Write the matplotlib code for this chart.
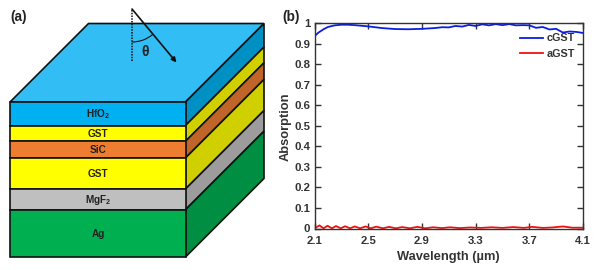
import matplotlib
matplotlib.use("Agg")
import matplotlib.pyplot as plt
from matplotlib.patches import Polygon, Arc

plt.rcParams['font.family'] = ['Liberation Sans', 'DejaVu Sans']
plt.rcParams['font.weight'] = 'bold'
plt.rcParams['mathtext.fontset'] = 'custom'
plt.rcParams['mathtext.bf'] = 'Liberation Sans:bold'
TXT = '#222222'

# Absorption data
wl_c = [2.1, 2.13, 2.17, 2.2, 2.25, 2.3, 2.35, 2.4, 2.5, 2.6, 2.7, 2.8, 2.9, 3.0, 3.05, 3.1, 3.15, 3.2,
        3.25, 3.3, 3.35, 3.4, 3.45, 3.5, 3.55, 3.6, 3.65, 3.7, 3.75, 3.8, 3.85, 3.9, 3.95, 4.0, 4.05, 4.1]
abs_c = [0.937, 0.955, 0.972, 0.982, 0.990, 0.993, 0.993, 0.991, 0.985, 0.977, 0.972, 0.971, 0.973, 0.977,
         0.981, 0.980, 0.987, 0.984, 0.992, 0.987, 0.995, 0.990, 0.996, 0.991, 0.996, 0.990, 0.991, 0.990,
         0.978, 0.982, 0.970, 0.973, 0.955, 0.960, 0.958, 0.953]
wl_a = [2.1, 2.137, 2.167, 2.197, 2.23, 2.26, 2.295, 2.328, 2.365, 2.40, 2.44, 2.48, 2.52, 2.56, 2.61, 2.655,
        2.705, 2.754, 2.81, 2.866, 2.925, 2.985, 3.05, 3.11, 3.18, 3.26, 3.34, 3.42, 3.5, 3.58, 3.66, 3.72,
        3.8, 3.87, 3.95, 4.02, 4.1]
abs_a = [0.001, 0.015, 0.001, 0.013, 0.001, 0.012, 0.001, 0.011, 0.001, 0.010, 0.001, 0.010, 0.001, 0.009,
         0.001, 0.008, 0.001, 0.007, 0.001, 0.008, 0.001, 0.006, 0.002, 0.006, 0.002, 0.005, 0.003, 0.006,
         0.003, 0.007, 0.003, 0.008, 0.003, 0.005, 0.010, 0.004, 0.004]

# Stack schematic, pixel units
layer_names = ['HfO$_\\mathbf{2}$', 'GST', 'SiC', 'GST', 'MgF$_\\mathbf{2}$', 'Ag']
layer_edges = [102, 125.5, 141.3, 158, 189, 209.7, 257]
front_colors = ['#00b0f0', '#ffff00', '#ed7d31', '#ffff00', '#bfbfbf', '#00b050']
side_colors = ['#0090c4', '#d0d000', '#c0652a', '#d0d000', '#9c9c9c', '#008f42']
top_color = '#33bdf5'
x0, x1 = 10, 185.5
dx, dy = 78.5, -78.5

fig = plt.figure(figsize=(5.99, 2.70), dpi=100)
bg = fig.add_axes([0, 0, 1, 1])
bg.set_xlim(0, 599)
bg.set_ylim(270, 0)
bg.axis('off')

bg.add_patch(Polygon([(x0, layer_edges[0]), (x1, layer_edges[0]), (x1 + dx, layer_edges[0] + dy),
                      (x0 + dx, layer_edges[0] + dy)], fc=top_color, ec='#111111', lw=1.2))
for i, name in enumerate(layer_names):
    ya, yb = layer_edges[i], layer_edges[i + 1]
    bg.add_patch(Polygon([(x1, ya), (x1 + dx, ya + dy), (x1 + dx, yb + dy), (x1, yb)],
                         fc=side_colors[i], ec='#111111', lw=1.2))
    bg.add_patch(Polygon([(x0, ya), (x1, ya), (x1, yb), (x0, yb)],
                         fc=front_colors[i], ec='#111111', lw=1.2))
    bg.text((x0 + x1) / 2 + 0.5, (ya + yb) / 2 + 0.3, name, ha='center', va='center',
            fontsize=7.2, color=TXT)

# incidence arrow and angle
bg.plot([132, 132], [10, 62], color='#111111', lw=1.1, ls=(0, (1, 0.8)))
bg.annotate('', xy=(176.5, 62.5), xytext=(132, 9),
            arrowprops=dict(arrowstyle='-|>', color='#111111', lw=1.2, mutation_scale=7, shrinkA=0, shrinkB=0))
bg.add_patch(Arc((132, 10), 64, 64, theta1=50, theta2=90, color='#111111', lw=0.8))
bg.text(145.5, 52, 'θ', ha='center', va='center', fontsize=10, color=TXT)
bg.text(10.5, 17, '(a)', ha='left', va='center', fontsize=9.8, color=TXT)
bg.text(282.5, 17, '(b)', ha='left', va='center', fontsize=9.8, color=TXT)

# Absorption panel
ax = fig.add_axes([314.5 / 599, 1 - 228.5 / 270, (583 - 314.5) / 599, (228.5 - 23.3) / 270])
ax.plot(wl_c, abs_c, color='#0a1ee6', lw=1.3, label='cGST')
ax.plot(wl_a, abs_a, color='#f01010', lw=1.3, label='aGST')
ax.set_xlim(2.1, 4.1)
ax.set_ylim(0, 1)
ax.set_xticks([2.1, 2.5, 2.9, 3.3, 3.7, 4.1])
ax.set_xticklabels(['2.1', '2.5', '2.9', '3.3', '3.7', '4.1'])
ax.set_yticks([i / 10 for i in range(11)])
ax.set_yticklabels(['0', '0.1', '0.2', '0.3', '0.4', '0.5', '0.6', '0.7', '0.8', '0.9', '1'])
ax.tick_params(direction='in', top=True, right=True, length=4, width=1, color='#333333',
               labelsize=8.2, labelcolor='#333333')
ax.tick_params(axis='x', pad=5.5)
ax.tick_params(axis='y', pad=3)
for s in ax.spines.values():
    s.set_linewidth(1)
    s.set_color('#333333')
ax.set_xlabel('Wavelength (µm)', fontsize=9.3, color='#333333', fontweight='bold')
ax.set_ylabel('Absorption', fontsize=9.3, color='#333333', fontweight='bold')
ax.xaxis.set_label_coords(0.5, -0.11)
ax.yaxis.set_label_coords(-0.084, 0.495)
leg = ax.legend(loc='upper right', frameon=False, fontsize=7.8, handlelength=2.1, handletextpad=0.35,
                labelspacing=0.48, borderaxespad=0, bbox_to_anchor=(0.986, 0.972))
for t in leg.get_texts():
    t.set_color('#333333')

fig.savefig('out.png', dpi=100)
